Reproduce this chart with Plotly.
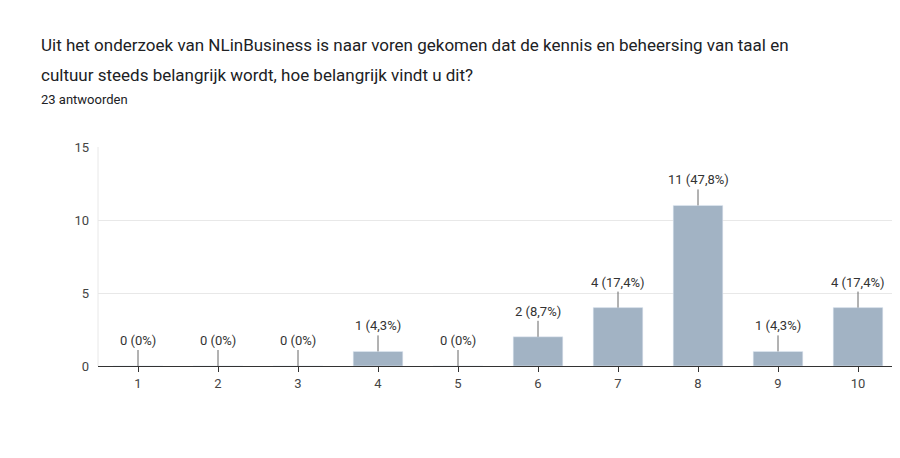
import plotly.graph_objects as go

categories = ["1", "2", "3", "4", "5", "6", "7", "8", "9", "10"]
counts = [0, 0, 0, 1, 0, 2, 4, 11, 1, 4]
labels = ["0 (0%)", "0 (0%)", "0 (0%)", "1 (4,3%)", "0 (0%)", "2 (8,7%)",
          "4 (17,4%)", "11 (47,8%)", "1 (4,3%)", "4 (17,4%)"]

font = "Roboto"
fig = go.Figure(go.Bar(x=categories, y=counts, marker_color="#a2b3c4", width=0.62))

for i, (v, t) in enumerate(zip(counts, labels)):
    fig.add_annotation(x=i, y=v, text=t, showarrow=True, arrowhead=0, arrowwidth=1,
                       arrowcolor="#666", ax=0, ay=-16, yanchor="bottom",
                       font=dict(family=font, size=13, color="#333"))

title_lines = ["Uit het onderzoek van NLinBusiness is naar voren gekomen dat de kennis en beheersing van taal en",
               "cultuur steeds belangrijk wordt, hoe belangrijk vindt u dit?"]
for yy, line in zip([1.466, 1.329], title_lines):
    fig.add_annotation(xref="paper", yref="paper", x=-0.074, y=yy, xanchor="left",
                       yanchor="middle", showarrow=False, text=line,
                       font=dict(family=font, size=17, color="#202124"))
fig.add_annotation(xref="paper", yref="paper", x=-0.074, y=1.219, xanchor="left",
                   yanchor="middle", showarrow=False, text="23 antwoorden",
                   font=dict(family=font, size=13, color="#202124"))

fig.update_layout(
    width=900, height=458, margin=dict(l=90, r=10, t=139, b=100),
    plot_bgcolor="white", paper_bgcolor="white", showlegend=False,
    font=dict(family=font, size=13, color="#444"),
    xaxis=dict(type="category", showgrid=False, showline=True, linecolor="#333",
               ticks="outside", tickcolor="#333", ticklen=5),
    yaxis=dict(range=[0, 15], tickvals=[0, 5, 10, 15], gridcolor="#e8e8e8",
               zeroline=False, ticks="", ticklabelstandoff=8),
)
fig.add_shape(type="line", xref="paper", yref="y", x0=0, x1=0, y0=0, y1=15,
              line=dict(color="#e8e8e8", width=1))
fig.write_html("out.html")
